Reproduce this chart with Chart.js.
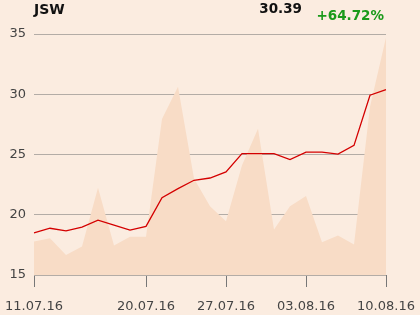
<!DOCTYPE html>
<html>
<head>
<meta charset="utf-8">
<script src="https://cdn.jsdelivr.net/npm/chart.js@4/dist/chart.umd.min.js"></script>
<style>
  html, body { margin: 0; padding: 0; background: #fbece0; }
  #wrap { position: relative; width: 420px; height: 315px; }
  .hd { position: absolute; font-family: "DejaVu Sans", sans-serif; font-weight: bold; white-space: nowrap; }
  #name { left: 34px; top: 1px; font-size: 14px; color: #111; }
  #last { right: 118px; top: 0px; font-size: 13.5px; color: #111; }
  #chg { right: 36px; top: 7px; font-size: 13.5px; color: #1a9a1a; }
</style>
</head>
<body>
<div id="wrap">
  <canvas id="chart" width="420" height="315"></canvas>
  <div class="hd" id="name">JSW</div>
  <div class="hd" id="last">30.39</div>
  <div class="hd" id="chg">+64.72%</div>
</div>
<script>
// trading days
const days = [
  '11.07.16', '12.07.16', '13.07.16', '14.07.16', '15.07.16',
  '18.07.16', '19.07.16', '20.07.16', '21.07.16', '22.07.16',
  '25.07.16', '26.07.16', '27.07.16', '28.07.16', '29.07.16',
  '01.08.16', '02.08.16', '03.08.16', '04.08.16', '05.08.16',
  '08.08.16', '09.08.16', '10.08.16'
];
const shownDates = ['11.07.16', '20.07.16', '27.07.16', '03.08.16', '10.08.16'];

// price line
const price = [
  18.5, 18.88, 18.67, 18.97, 19.55, 19.13, 18.72, 19.03, 21.42, 22.17,
  22.86, 23.05, 23.55, 25.08, 25.08, 25.08, 24.58, 25.19, 25.19, 25.03,
  25.76, 29.92, 30.39
];
// shaded background series
const shade = [
  17.78, 18.05, 16.67, 17.36, 22.25, 17.44, 18.17, 18.17, 27.95, 30.62,
  23.0, 20.7, 19.47, 24.1, 27.13, 18.77, 20.7, 21.55, 17.72, 18.28,
  17.53, 28.96, 34.7
];
const yTicks = [15, 20, 25, 30, 35];

const ctx = document.getElementById('chart').getContext('2d');

const chart = new Chart(ctx, {
  type: 'line',
  data: {
    labels: days,
    datasets: [
      {
        data: price,
        borderColor: '#d40000',
        borderWidth: 1.3,
        pointRadius: 0,
        tension: 0,
        fill: false,
        order: 1
      },
      {
        data: shade,
        borderWidth: 0,
        backgroundColor: '#f8dcc6',
        pointRadius: 0,
        tension: 0,
        fill: 'start',
        order: 2
      }
    ]
  },
  options: {
    responsive: false,
    animation: false,
    layout: { padding: { left: 0, right: 34, top: 34, bottom: 0 } },
    plugins: { legend: { display: false }, tooltip: { enabled: false } },
    scales: {
      x: {
        offset: false,
        border: { display: false },
        grid: {
          drawOnChartArea: false,
          drawTicks: true,
          tickLength: 12,
          color: (c) => shownDates.includes(days[c.index]) ? '#777' : 'rgba(0,0,0,0)'
        },
        ticks: {
          autoSkip: false,
          maxRotation: 0,
          padding: 12,
          color: '#444',
          font: { family: 'DejaVu Sans', size: 13 },
          callback: (v, i) => shownDates.includes(days[i]) ? days[i] : ''
        },
        afterFit: (s) => {
          s.height = 40;
          // keep the plot edges at 34px; labels may overhang
          s.paddingLeft = 0;
          s.paddingRight = 0;
        }
      },
      y: {
        min: 15,
        max: 35,
        border: { display: false },
        grid: { color: '#b3aca6', drawTicks: false },
        afterBuildTicks: (s) => { s.ticks = yTicks.map(v => ({ value: v })); },
        ticks: {
          padding: 8,
          color: '#444',
          font: { family: 'DejaVu Sans', size: 13 }
        },
        afterFit: (s) => { s.width = 34; }
      }
    }
  }
});
</script>
</body>
</html>
